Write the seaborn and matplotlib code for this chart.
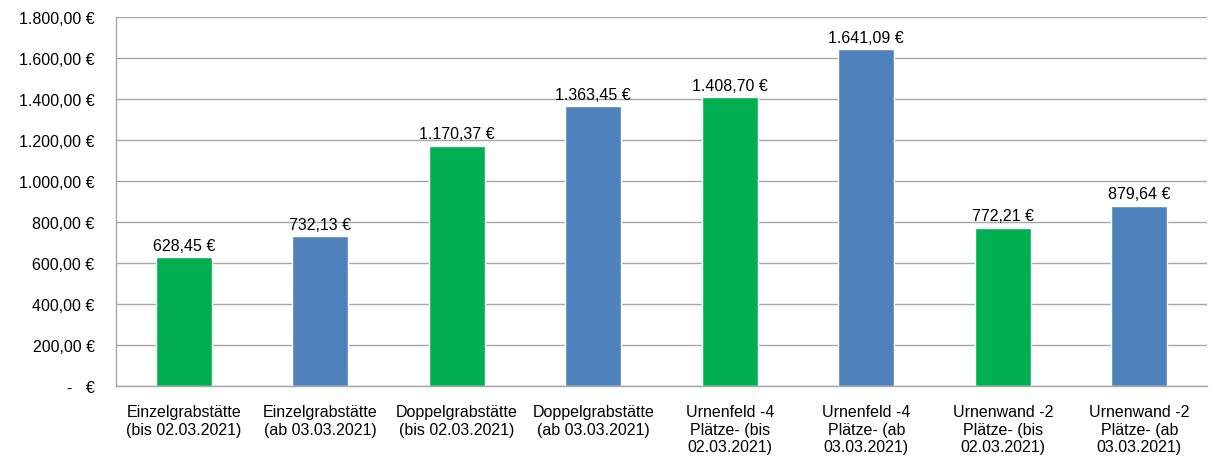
import matplotlib
matplotlib.use("Agg")
import matplotlib.pyplot as plt
import seaborn as sns
import pandas as pd
from matplotlib.ticker import FuncFormatter, MultipleLocator

sns.set_theme(style="white")
plt.rcParams["font.family"] = ["Liberation Sans", "DejaVu Sans"]

categories = [
    "Einzelgrabstätte\n(bis 02.03.2021)",
    "Einzelgrabstätte\n(ab 03.03.2021)",
    "Doppelgrabstätte\n(bis 02.03.2021)",
    "Doppelgrabstätte\n(ab 03.03.2021)",
    "Urnenfeld -4\nPlätze- (bis\n02.03.2021)",
    "Urnenfeld -4\nPlätze- (ab\n03.03.2021)",
    "Urnenwand -2\nPlätze- (bis\n02.03.2021)",
    "Urnenwand -2\nPlätze- (ab\n03.03.2021)",
]
values = [628.45, 732.13, 1170.37, 1363.45, 1408.70, 1641.09, 772.21, 879.64]
period = ["bis", "ab", "bis", "ab", "bis", "ab", "bis", "ab"]
palette = {"bis": "#00B050", "ab": "#4F81BD"}

df = pd.DataFrame({"kategorie": categories, "wert": values, "periode": period})


def euro(v, pos=None):
    if v == 0:
        return "-   €"
    s = f"{v:,.2f}".replace(",", "X").replace(".", ",").replace("X", ".")
    return s + " €"


fig, ax = plt.subplots(figsize=(12.16, 4.64), dpi=100)
sns.barplot(data=df, x="kategorie", y="wert", hue="periode", palette=palette,
            dodge=False, width=0.41, legend=False, ax=ax, saturation=1)

for i, v in enumerate(values):
    ax.text(i, v + 22, euro(v), ha="center", va="bottom", fontsize=11.5, color="black")

ax.set_ylim(0, 1800)
ax.set_xlim(-0.5, len(categories) - 0.5)
ax.yaxis.set_major_locator(MultipleLocator(200))
ax.yaxis.set_major_formatter(FuncFormatter(euro))
ax.yaxis.grid(True, color="#A6A6A6", linewidth=1)
ax.set_axisbelow(True)
ax.set_xlabel("")
ax.set_ylabel("")

ax.set_xticks([i + 0.5 for i in range(-1, len(categories))], minor=True)
ax.tick_params(axis="x", which="minor", length=4, color="#A6A6A6", width=1)
ax.tick_params(axis="x", which="major", length=0, labelsize=11.5, pad=13,
               labelcolor="black")
ax.tick_params(axis="y", length=0, labelsize=11.5, pad=15, labelcolor="black")

for s in ["top", "right"]:
    ax.spines[s].set_visible(False)
for s in ["left", "bottom"]:
    ax.spines[s].set_color("#A6A6A6")
    ax.spines[s].set_linewidth(1)

fig.subplots_adjust(left=0.095, right=0.993, top=0.962, bottom=0.165)
fig.savefig("out.png", dpi=100)
